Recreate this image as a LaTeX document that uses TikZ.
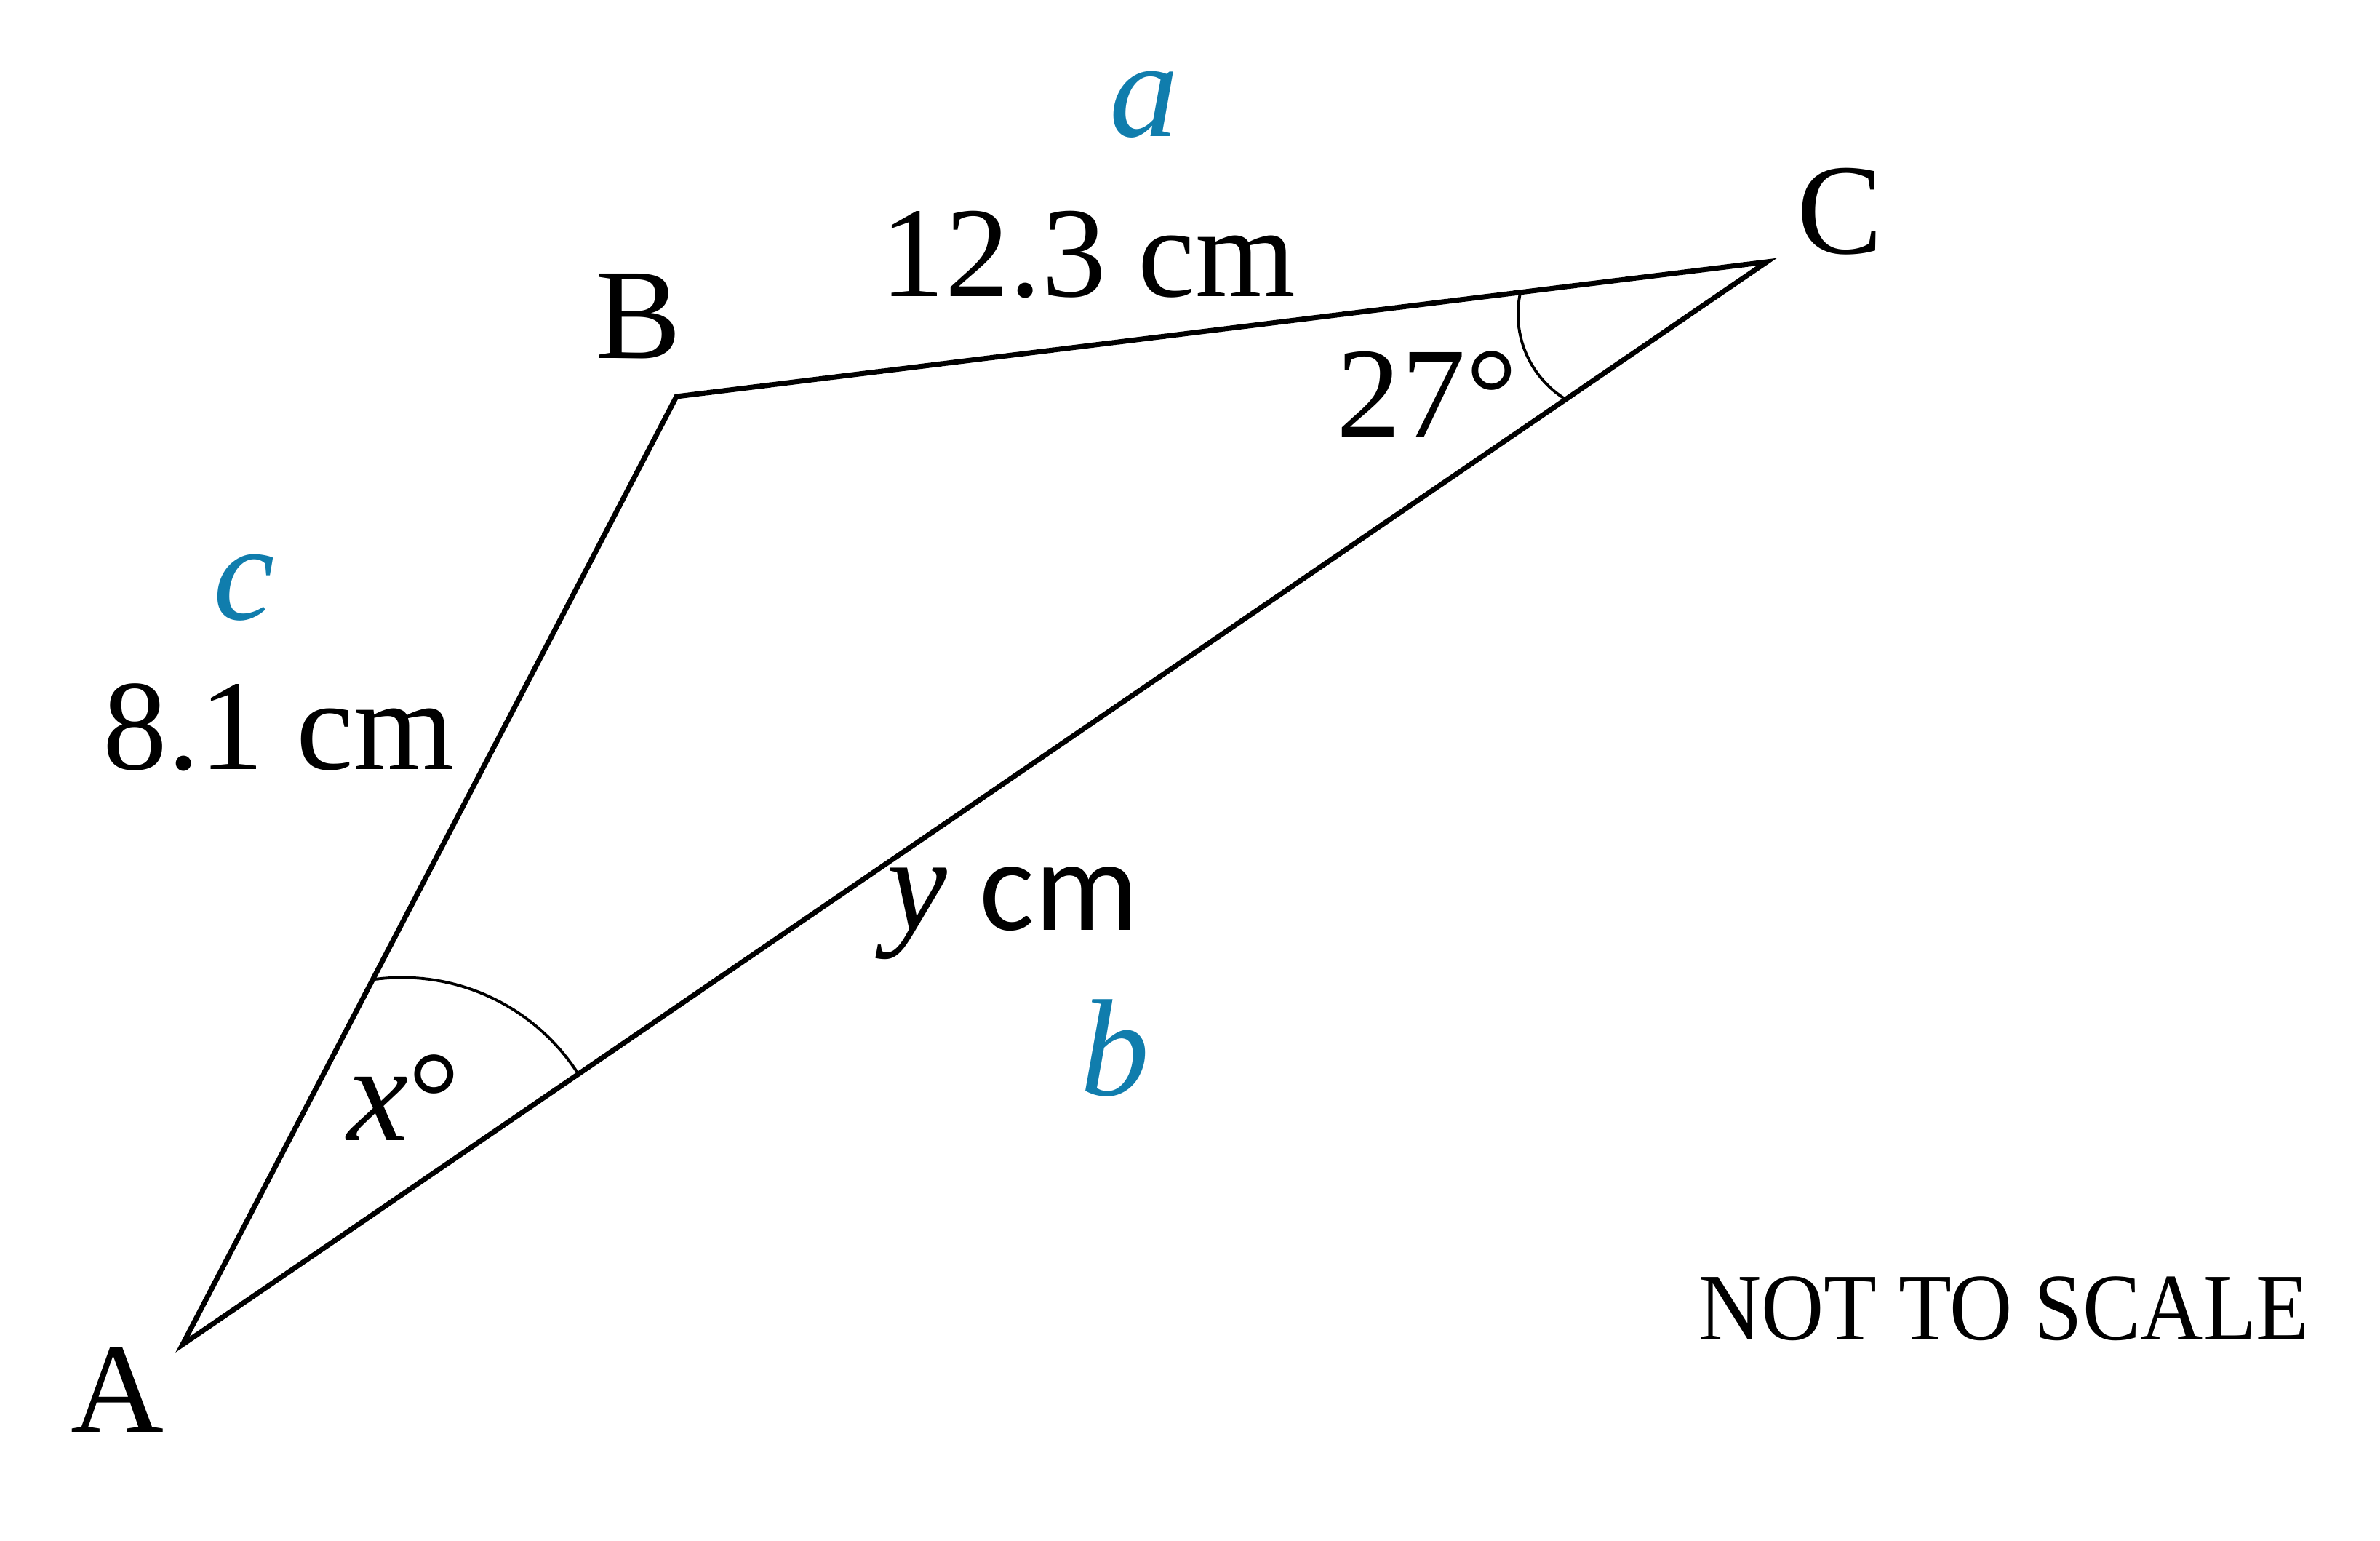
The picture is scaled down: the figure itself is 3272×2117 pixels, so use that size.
\documentclass[tikz,border=0pt]{standalone}
\usepackage{fontspec}
\setmainfont{Liberation Serif}
\newfontfamily\capsfont{Liberation Serif}[FakeStretch=0.91]
\newfontfamily\sanscm{Carlito}
\usetikzlibrary{calc}
\definecolor{sideblue}{RGB}{16,125,173}
\tikzset{
  lbl/.style={inner sep=0pt, anchor=base, font=\fontsize{50.4}{60}\selectfont},
  var/.style={inner sep=0pt, anchor=base, text=sideblue, font=\itshape\fontsize{54}{64}\selectfont},
  side/.style={line width=2pt},
  anglearc/.style={line width=1.1pt}
}
\begin{document}
\begin{tikzpicture}[x=0.01cm, y=0.01cm]
\useasboundingbox (0,0) rectangle (3272,2117);
% vertices
\coordinate (A) at (251,269);
\coordinate (B) at (930,1572);
\coordinate (C) at (2429,1757);
% triangle
\draw[side] (A) -- (B) -- (C) -- cycle;
% angle arcs
\draw[anglearc] ($(A)!0.385!(B)$) arc[start angle=98, end angle=32.5, radius=2.88cm];
\draw[anglearc] ($(B)!0.774!(C)$) arc[start angle=167.4, end angle=238.4, radius=1.373cm];
% vertex labels
\node[lbl] (labA) at (161,149) {A};
\node[lbl] (labB) at (878,1624) {B};
\node[lbl] (labC) at (2530,1768) {C};
% measurements
\node[lbl] (labBC) at (1496,1709) {12.3 cm};
\node[lbl] (labAB) at (383,1059) {8.1 cm};
\node[lbl] (labAC) at (1393,838) {{\itshape\fontsize{53}{60}\selectfont y} {\sanscm\fontsize{51}{60}\selectfont cm}};
\node[lbl] (angC) at (1962,1516) {27°};
\node[lbl] (angA) at (555,550) {{\itshape\fontsize{54}{60}\selectfont x}°};
% side names
\node[var] (sa) at (1573,1929) {a};
\node[var] (sb) at (1533,612) {b};
\node[var] (sc) at (336,1265) {c};
% note
\node[inner sep=0pt, anchor=base, font=\capsfont\fontsize{37.3}{44}\selectfont] (note) at (2755,276) {NOT TO SCALE};
\end{tikzpicture}
\end{document}
